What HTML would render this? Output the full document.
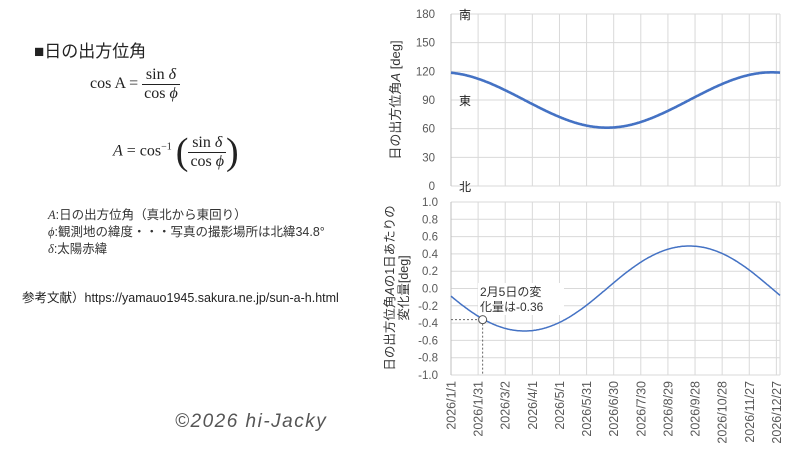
<!DOCTYPE html>
<html><head><meta charset="utf-8">
<style>
html,body{margin:0;padding:0;background:#fff;}
body{width:800px;height:450px;position:relative;overflow:hidden;font-family:"Liberation Sans","Noto Sans CJK JP",sans-serif;}
.t{position:absolute;white-space:nowrap;color:#222;}
.m{font-family:"Liberation Serif","Noto Serif CJK SC",serif;}
.frac{display:inline-block;vertical-align:middle;text-align:center;}
.frac span{display:block;padding:0 2px;}
.frac .n{border-bottom:1px solid #222;}
</style></head><body>
<div class="t" style="left:34px;top:37px;font-size:17px;">■日の出方位角</div>
<div class="t m" style="left:90px;top:66px;font-size:16px;">cos A = <span class="frac"><span class="n">sin <i>δ</i></span><span>cos <i>ϕ</i></span></span></div>
<div class="t m" style="left:113px;top:130px;font-size:16px;"><i>A</i> = cos<sup style="font-size:10px">−1</sup> <span style="font-size:38px;vertical-align:middle;font-weight:100;">(</span><span class="frac"><span class="n">sin <i>δ</i></span><span>cos <i>ϕ</i></span></span><span style="font-size:38px;vertical-align:middle;font-weight:100;">)</span></div>
<div class="t" style="left:48px;top:207px;font-size:12.5px;color:#333;line-height:17px;"><i class="m">A</i>:日の出方位角（真北から東回り）<br><i class="m">ϕ</i>:観測地の緯度・・・写真の撮影場所は北緯34.8°<br><i class="m">δ</i>:太陽赤緯</div>
<div class="t" style="left:22px;top:287px;font-size:12.5px;color:#222;">参考文献）https://yamauo1945.sakura.ne.jp/sun-a-h.html</div>
<div class="t" style="left:175px;top:411px;font-size:19px;font-style:italic;color:#555;letter-spacing:1.5px;">©2026 hi-Jacky</div>
<svg id="c" width="800" height="450" style="position:absolute;left:0;top:0" xmlns="http://www.w3.org/2000/svg" font-family="Liberation Sans, Noto Sans CJK JP, sans-serif"></svg>
<script>
var s='',X0=451,X1=780,N=364;
function xp(d){return X0+d*(X1-X0)/N;}
var T0=14,T1=186,B0=202,B1=375;
for(var i=0;i<=12;i++){var x=xp(i*30);s+='<line x1="'+x+'" y1="'+T0+'" x2="'+x+'" y2="'+T1+'" stroke="#d9d9d9"/>';s+='<line x1="'+x+'" y1="'+B0+'" x2="'+x+'" y2="'+B1+'" stroke="#d9d9d9"/>';}
s+='<line x1="'+X1+'" y1="'+T0+'" x2="'+X1+'" y2="'+T1+'" stroke="#d9d9d9"/><line x1="'+X1+'" y1="'+B0+'" x2="'+X1+'" y2="'+B1+'" stroke="#d9d9d9"/>';
for(var i=0;i<=6;i++){var y=T1-i*(T1-T0)/6;s+='<line x1="'+X0+'" y1="'+y+'" x2="'+X1+'" y2="'+y+'" stroke="#d9d9d9"/><text x="435" y="'+(y+4)+'" font-size="11.5" fill="#595959" text-anchor="end">'+(i*30)+'</text>';}
for(var i=0;i<=10;i++){var y=B1-i*(B1-B0)/10;var v=(-1+i*0.2).toFixed(1);if(v=="-0.0")v="0.0";s+='<line x1="'+X0+'" y1="'+y+'" x2="'+X1+'" y2="'+y+'" stroke="#d9d9d9"/><text x="438" y="'+(y+4)+'" font-size="11.5" fill="#595959" text-anchor="end">'+v+'</text>';}
s+='<line x1="'+X0+'" y1="'+T0+'" x2="'+X0+'" y2="'+T1+'" stroke="#bfbfbf"/><line x1="'+X0+'" y1="'+B0+'" x2="'+X0+'" y2="'+B1+'" stroke="#bfbfbf"/>';
var labs=["2026/1/1","2026/1/31","2026/3/2","2026/4/1","2026/5/1","2026/5/31","2026/6/30","2026/7/30","2026/8/29","2026/9/28","2026/10/28","2026/11/27","2026/12/27"];
for(var i=0;i<13;i++){var x=xp(i*30)+4.5;s+='<text transform="translate('+x+',381) rotate(-90)" font-size="12.5" fill="#595959" text-anchor="end">'+labs[i]+'</text>';}
var c=Math.cos(34.8*Math.PI/180);
function A(d){var del=-23.44*Math.cos(2*Math.PI*(d+10)/365)*Math.PI/180;return Math.acos(Math.sin(del)/c)*180/Math.PI;}
var p1='',p2='';
for(var d=0;d<=N;d+=1){var x=xp(d);p1+=(d?'L':'M')+x.toFixed(1)+' '+(T1-A(d)/180*(T1-T0)).toFixed(1);var dv=A(d+0.5)-A(d-0.5);p2+=(d?'L':'M')+x.toFixed(1)+' '+(B1-(dv+1)/2*(B1-B0)).toFixed(1);}
s+='<path d="'+p1+'" fill="none" stroke="#4472c4" stroke-width="2.6"/>';
s+='<path d="'+p2+'" fill="none" stroke="#4472c4" stroke-width="1.5"/>';
var xf=xp(35),yf=B1-(-0.36+1)/2*(B1-B0);
s+='<line x1="'+X0+'" y1="'+yf+'" x2="'+xf+'" y2="'+yf+'" stroke="#666" stroke-dasharray="2,2"/><line x1="'+xf+'" y1="'+yf+'" x2="'+xf+'" y2="'+B1+'" stroke="#666" stroke-dasharray="2,2"/>';
s+='<circle cx="'+xf+'" cy="'+yf+'" r="4" fill="#fff" stroke="#555"/>';
s+='<rect x="478" y="283" width="86" height="32" fill="#fff"/><text x="480" y="296" font-size="12" fill="#333">2月5日の変</text><text x="480" y="311" font-size="12" fill="#333">化量は-0.36</text>';
s+='<text x="459" y="19" font-size="12" fill="#222">南</text><text x="459" y="105" font-size="12" fill="#222">東</text><text x="459" y="191" font-size="12" fill="#222">北</text>';
s+='<text transform="translate(400,100) rotate(-90)" font-size="13" fill="#333" text-anchor="middle">日の出方位角<tspan font-style="italic">A</tspan> [deg]</text>';
s+='<text transform="translate(394,288) rotate(-90)" font-size="12.5" fill="#333" text-anchor="middle">日の出方位角<tspan font-style="italic">A</tspan>の1日あたりの</text>';
s+='<text transform="translate(408,288) rotate(-90)" font-size="12.5" fill="#333" text-anchor="middle">変化量[deg]</text>';
document.getElementById('c').innerHTML=s;
</script>
</body></html>
